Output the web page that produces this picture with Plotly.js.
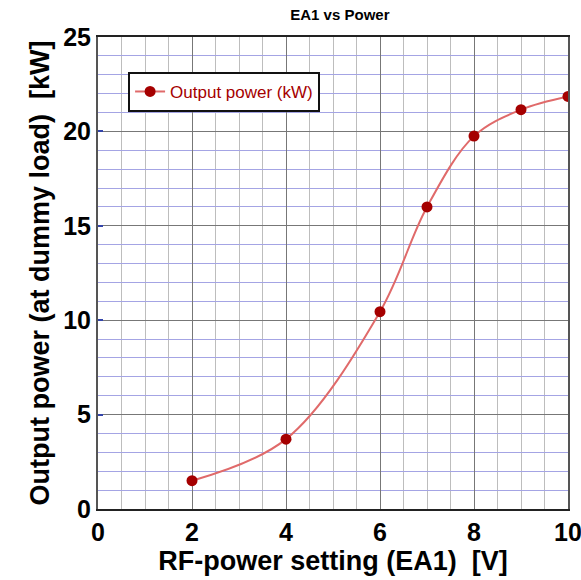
<!DOCTYPE html>
<html>
<head>
<meta charset="utf-8">
<script src="https://cdn.plot.ly/plotly-3.0.1.min.js"></script>
<style>html,body{margin:0;padding:0;background:#fff;}#chart{width:581px;height:580px;}</style>
</head>
<body>
<div id="chart"></div>
<script>
const settingV = [2, 4, 6, 7, 8, 9, 10];
const outputKW = [1.5, 3.7, 10.45, 16.0, 19.75, 21.15, 21.85];
const seriesName = 'Output power (kW)';
const chartTitle = 'EA1 vs Power';
const xTitle = 'RF-power setting (EA1)  [V]';
const yTitle = 'Output power (at dummy load)  [kW]';
const xTickVals = [0, 2, 4, 6, 8, 10];
const yTickVals = [0, 5, 10, 15, 20, 25];

const trace = {
  x: settingV, y: outputKW, name: seriesName,
  type: 'scatter', mode: 'lines+markers',
  line: {color: '#e06a6a', width: 2, shape: 'spline', smoothing: 1},
  marker: {color: '#a50000', size: 11}
};

const bold = v => '<b>' + v + '</b>';

const layout = {
  width: 581, height: 580,
  margin: {l: 98, r: 13, t: 37, b: 71},
  paper_bgcolor: '#fff', plot_bgcolor: '#fff',
  font: {family: 'Liberation Sans, Arial, sans-serif', color: '#000'},
  title: {text: bold(chartTitle), font: {size: 15}, x: 0.585, xanchor: 'center', y: 0.975, yanchor: 'middle'},
  showlegend: true,
  legend: {x: 0.064, y: 0.926, xanchor: 'left', yanchor: 'top', bgcolor: '#fff', bordercolor: '#111', borderwidth: 2,
           font: {size: 17, color: '#a50000'}},
  xaxis: {
    range: [0, 10], tickmode: 'array', tickvals: xTickVals, ticktext: xTickVals.map(bold),
    ticklabeloverflow: 'allow',
    showline: true, linecolor: '#222', linewidth: 2, mirror: true,
    showgrid: true, gridcolor: '#777', gridwidth: 1,
    minor: {dtick: 0.5, tick0: 0, showgrid: true, gridcolor: '#bdbdbd', gridwidth: 1},
    zeroline: false, ticks: '',
    tickfont: {size: 25},
    title: {text: bold(xTitle), font: {size: 27}, standoff: 4}
  },
  yaxis: {
    range: [0, 25], tickmode: 'array', tickvals: yTickVals, ticktext: yTickVals.map(bold),
    ticklabeloverflow: 'allow',
    showline: true, linecolor: '#555', linewidth: 2, mirror: true,
    showgrid: true, gridcolor: '#777', gridwidth: 1,
    minor: {dtick: 1, tick0: 0, showgrid: true, gridcolor: '#a4a4e4', gridwidth: 1},
    zeroline: false, ticks: 'inside', ticklen: 5, tickcolor: '#3344aa', tickwidth: 2,
    tickfont: {size: 25},
    title: {text: bold(yTitle), font: {size: 27}, standoff: 6}
  }
};

Plotly.newPlot('chart', [trace], layout, {displayModeBar: false, staticPlot: true});
</script>
</body>
</html>
